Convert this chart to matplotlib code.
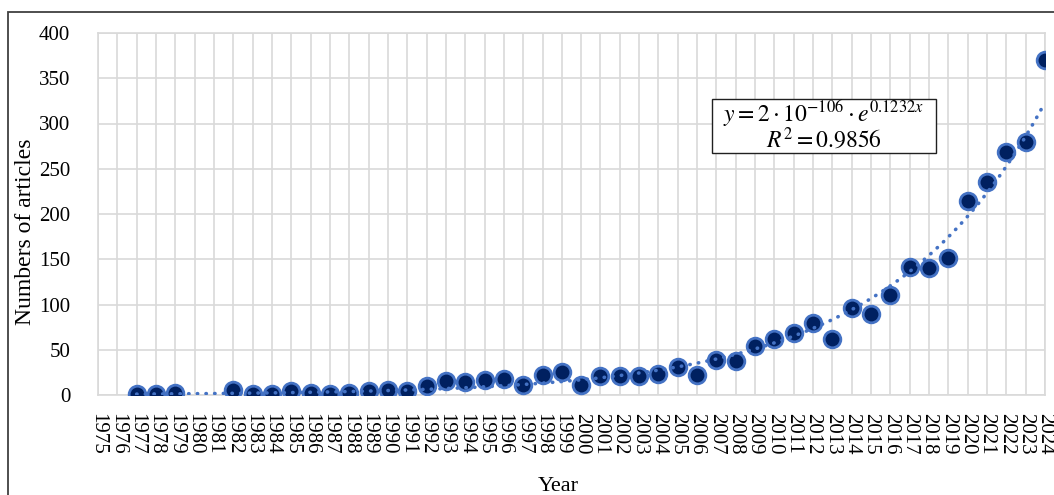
import numpy as np
import matplotlib
matplotlib.use("Agg")
import matplotlib.pyplot as plt
from matplotlib.patches import Rectangle

plt.rcParams['font.family'] = ['Liberation Serif', 'DejaVu Serif']
plt.rcParams['mathtext.fontset'] = 'stix'

# articles per year (1980, 1981 have no data)
years = [1977, 1978, 1979, 1982, 1983, 1984, 1985, 1986, 1987, 1988, 1989, 1990,
         1991, 1992, 1993, 1994, 1995, 1996, 1997, 1998, 1999, 2000, 2001, 2002,
         2003, 2004, 2005, 2006, 2007, 2008, 2009, 2010, 2011, 2012, 2013, 2014,
         2015, 2016, 2017, 2018, 2019, 2020, 2021, 2022, 2023, 2024]
counts = [1, 1, 2, 5, 1, 1, 4, 2, 1, 2, 4, 5,
          4, 10, 16, 14, 17, 18, 11, 22, 25, 11, 21, 21,
          21, 23, 31, 22, 39, 38, 54, 62, 68, 80, 62, 96,
          89, 110, 141, 140, 151, 214, 235, 268, 280, 370]
tick_years = list(range(1975, 2025))
yticks = [0, 50, 100, 150, 200, 250, 300, 350, 400]
growth = 0.1232  # exponent shown in the trendline label

W, H = 1054, 495
fig = plt.figure(figsize=(W / 100, H / 100), dpi=100)
ax = fig.add_axes([98 / W, 1 - 395 / H, (1045 - 98) / W, (395 - 33) / H])

# exponential trendline: slope from the label, intercept fitted on ln y
x = np.array(years, dtype=float)
y = np.array(counts, dtype=float)
lna = np.mean(np.log(y) - growth * x)
xt = np.linspace(1977, 2024, 300)
yt = np.exp(lna + growth * xt)

ax.plot(years, counts, 'o', ms=12, mfc='#002060', mec='#4472C4', mew=2.0, zorder=3)
ax.plot(xt, yt, color='#4472C4', lw=2.6, ls=(0, (0.1, 2.3)), dash_capstyle='round', zorder=4)

ax.set_xlim(1975, 2024)
ax.set_ylim(0, 400)
ax.set_xticks(tick_years)
ax.set_xticklabels([str(t) for t in tick_years], rotation=-90, fontsize=15)
ax.set_yticks(yticks)
ax.set_yticklabels([str(t) for t in yticks], fontsize=15)
ax.tick_params(axis='both', length=0)
ax.tick_params(axis='x', pad=13)
ax.tick_params(axis='y', pad=20)
ax.grid(True, color='#D9D9D9', lw=1.2)
ax.set_axisbelow(True)
for s in ax.spines.values():
    s.set_color('#D9D9D9')
    s.set_linewidth(1.2)

fig.text(26 / W, 1 - 232 / H, 'Numbers of articles', rotation=90, ha='center', va='center', fontsize=17)
fig.text(558 / W, 1 - 491 / H, 'Year', ha='center', va='baseline', fontsize=16)

# equation box
fig.add_artist(Rectangle((712 / W, 1 - 153 / H), (936 - 712) / W, (153 - 99) / H,
                         transform=fig.transFigure, fc='white', ec='#202020', lw=1.0, zorder=5))
fig.text(824 / W, 1 - 114 / H, r'$y = 2\cdot10^{-106}\cdot e^{0.1232x}$', ha='center', va='center', fontsize=17, zorder=6)
fig.text(824 / W, 1 - 140 / H, r'$R^2 = 0.9856$', ha='center', va='center', fontsize=17, zorder=6)

# chart area border
fig.add_artist(Rectangle((8 / W, -0.1), 1.2, 1.1 - 12 / H, transform=fig.transFigure,
                         fill=False, ec='#404040', lw=1.3, clip_on=False))

fig.savefig('out.png', dpi=100)
